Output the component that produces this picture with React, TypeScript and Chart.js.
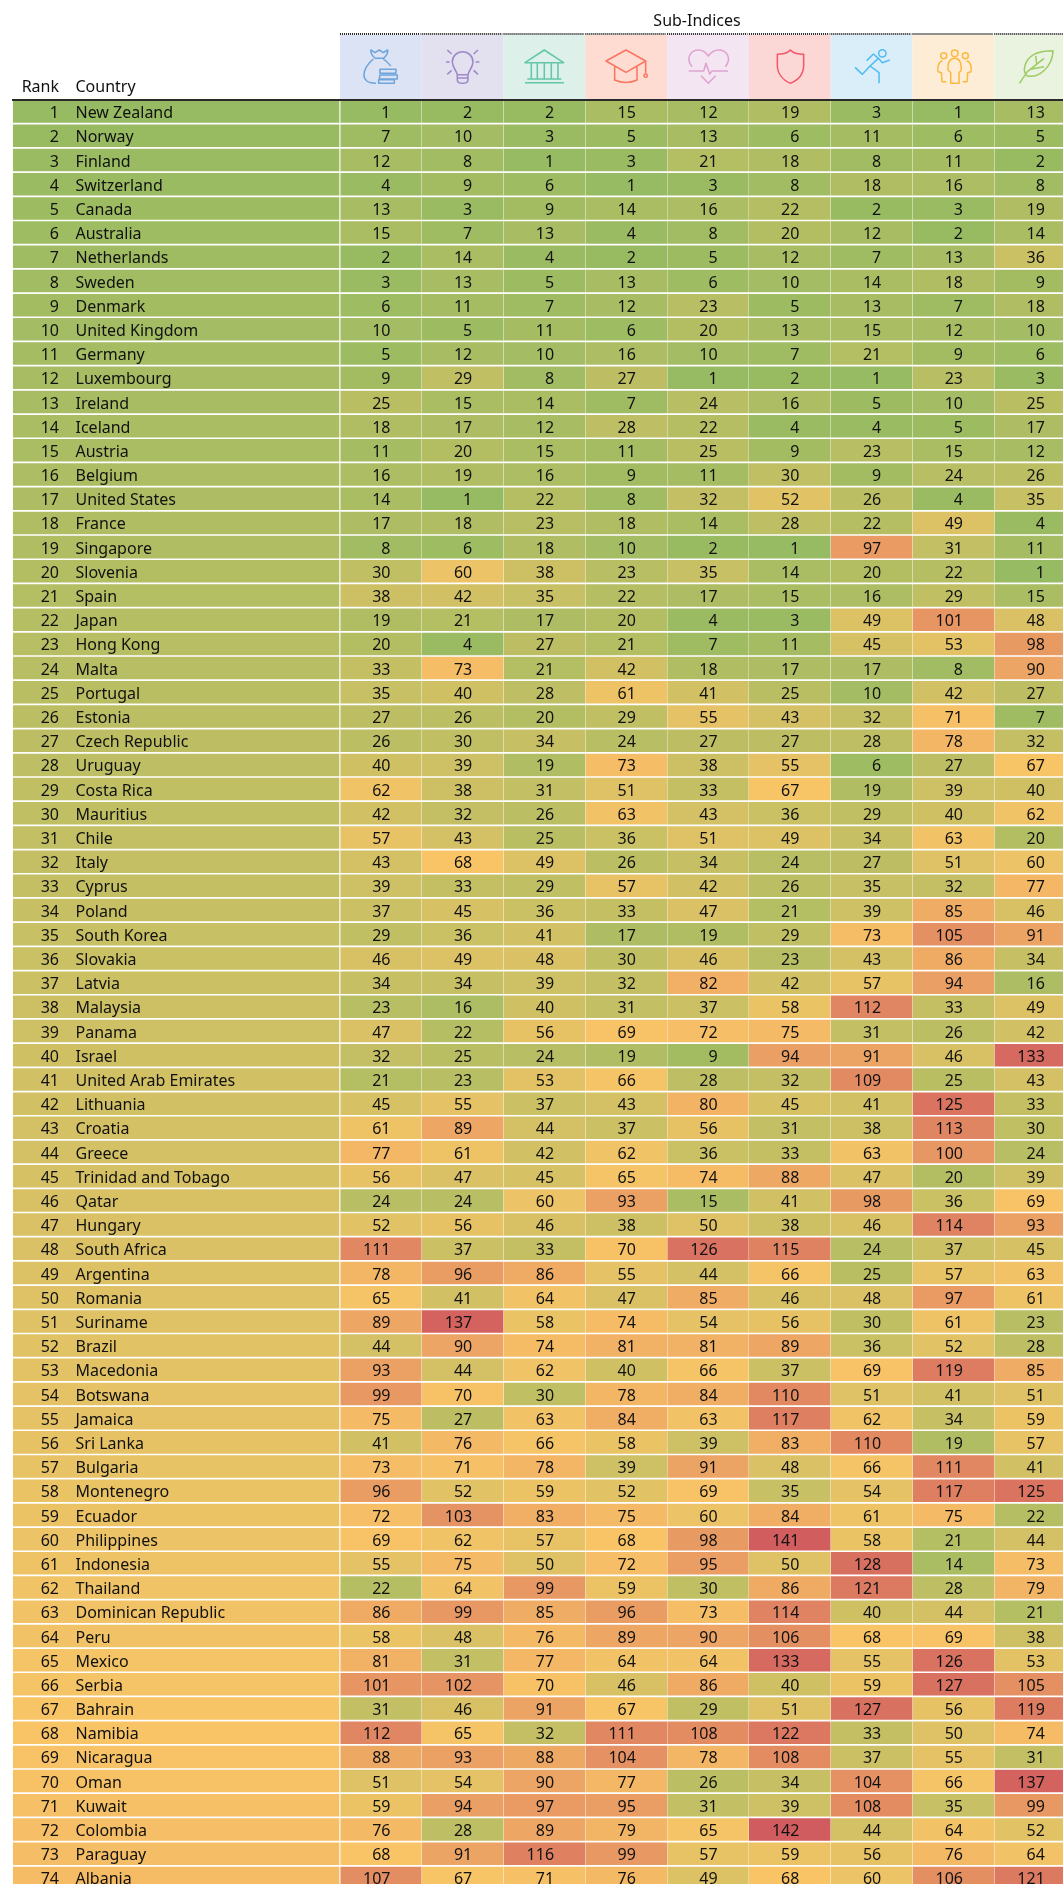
import React, { useEffect, useRef } from "react";
import { Chart, registerables } from "chart.js";

Chart.register(...registerables);

const ranks = Array.from({ length: 74 }, (_, i) => i + 1);
const countries = ["New Zealand","Norway","Finland","Switzerland","Canada","Australia","Netherlands","Sweden","Denmark","United Kingdom","Germany","Luxembourg","Ireland","Iceland","Austria","Belgium","United States","France","Singapore","Slovenia","Spain","Japan","Hong Kong","Malta","Portugal","Estonia","Czech Republic","Uruguay","Costa Rica","Mauritius","Chile","Italy","Cyprus","Poland","South Korea","Slovakia","Latvia","Malaysia","Panama","Israel","United Arab Emirates","Lithuania","Croatia","Greece","Trinidad and Tobago","Qatar","Hungary","South Africa","Argentina","Romania","Suriname","Brazil","Macedonia","Botswana","Jamaica","Sri Lanka","Bulgaria","Montenegro","Ecuador","Philippines","Indonesia","Thailand","Dominican Republic","Peru","Mexico","Serbia","Bahrain","Namibia","Nicaragua","Oman","Kuwait","Colombia","Paraguay","Albania"];

const economicQuality = [1,7,12,4,13,15,2,3,6,10,5,9,25,18,11,16,14,17,8,30,38,19,20,33,35,27,26,40,62,42,57,43,39,37,29,46,34,23,47,32,21,45,61,77,56,24,52,111,78,65,89,44,93,99,75,41,73,96,72,69,55,22,86,58,81,101,31,112,88,51,59,76,68,107];
const businessEnvironment = [2,10,8,9,3,7,14,13,11,5,12,29,15,17,20,19,1,18,6,60,42,21,4,73,40,26,30,39,38,32,43,68,33,45,36,49,34,16,22,25,23,55,89,61,47,24,56,37,96,41,137,90,44,70,27,76,71,52,103,62,75,64,99,48,31,102,46,65,93,54,94,28,91,67];
const governance = [2,3,1,6,9,13,4,5,7,11,10,8,14,12,15,16,22,23,18,38,35,17,27,21,28,20,34,19,31,26,25,49,29,36,41,48,39,40,56,24,53,37,44,42,45,60,46,33,86,64,58,74,62,30,63,66,78,59,83,57,50,99,85,76,77,70,91,32,88,90,97,89,116,71];
const education = [15,5,3,1,14,4,2,13,12,6,16,27,7,28,11,9,8,18,10,23,22,20,21,42,61,29,24,73,51,63,36,26,57,33,17,30,32,31,69,19,66,43,37,62,65,93,38,70,55,47,74,81,40,78,84,58,39,52,75,68,72,59,96,89,64,46,67,111,104,77,95,79,99,76];
const health = [12,13,21,3,16,8,5,6,23,20,10,1,24,22,25,11,32,14,2,35,17,4,7,18,41,55,27,38,33,43,51,34,42,47,19,46,82,37,72,9,28,80,56,36,74,15,50,126,44,85,54,81,66,84,63,39,91,69,60,98,95,30,73,90,64,86,29,108,78,26,31,65,57,49];
const safety = [19,6,18,8,22,20,12,10,5,13,7,2,16,4,9,30,52,28,1,14,15,3,11,17,25,43,27,55,67,36,49,24,26,21,29,23,42,58,75,94,32,45,31,33,88,41,38,115,66,46,56,89,37,110,117,83,48,35,84,141,50,86,114,106,133,40,51,122,108,34,39,142,59,68];
const personalFreedom = [3,11,8,18,2,12,7,14,13,15,21,1,5,4,23,9,26,22,97,20,16,49,45,17,10,32,28,6,19,29,34,27,35,39,73,43,57,112,31,91,109,41,38,63,47,98,46,24,25,48,30,36,69,51,62,110,66,54,61,58,128,121,40,68,55,59,127,33,37,104,108,44,56,60];
const socialCapital = [1,6,11,16,3,2,13,18,7,12,9,23,10,5,15,24,4,49,31,22,29,101,53,8,42,71,78,27,39,40,63,51,32,85,105,86,94,33,26,46,25,125,113,100,20,36,114,37,57,97,61,52,119,41,34,19,111,117,75,21,14,28,44,69,126,127,56,50,55,66,35,64,76,106];
const naturalEnvironment = [13,5,2,8,19,14,36,9,18,10,6,3,25,17,12,26,35,4,11,1,15,48,98,90,27,7,32,67,40,62,20,60,77,46,91,34,16,49,42,133,43,33,30,24,39,69,93,45,63,61,23,28,85,51,59,57,41,125,22,44,73,79,21,38,53,105,119,74,31,137,99,52,64,121];

const subIndices = [economicQuality, businessEnvironment, governance, education, health, safety, personalFreedom, socialCapital, naturalEnvironment];
const bandColors = ["#dce3f4","#e3e0f0","#ddf0e9","#ffdcd1","#f3e6f2","#fbd8d5","#daeefa","#feedd6","#eaf3e0"];
const iconColors = ["#6ea5dc","#9e88ca","#63c6a8","#fa7560","#e0a3cf","#f3586b","#50bdee","#fbb941","#9dcc66"];

const FONT = '"Noto Sans"';
const GREEN = [151, 187, 98];
const MID = [248, 196, 102];
const RED = [209, 92, 95];

function mix(a: number[], b: number[], t: number) {
  return `rgb(${a.map((v, i) => Math.round(v + (b[i] - v) * t)).join(",")})`;
}
function valueColor(v: number) {
  const midpoint = 68;
  return v <= midpoint ? mix(GREEN, MID, (v - 1) / (midpoint - 1)) : mix(MID, RED, (v - midpoint) / (142 - midpoint));
}

// Icon outlines, in 3x local units, one group per three sub-indices.
const iconPaths: { group: number; color: number; d: string; dots?: number[][] }[] = [
  { group: 0, color: 0, d: "M93 60 L105 68 L118 60 L130 68 L143 60 C146 70 136 80 131 85 L106 85 C100 80 90 72 93 60 Z M100 87 C85 100 72 115 72 135 C72 150 85 160 108 160 M130 87 C138 93 147 100 152 108 M120 118 H168 V130 H120 Z M120 135 H172 V147 H118 Z M116 149 H163 V160 H116 Z" },
  { group: 0, color: 1, d: "M352 134 C350 122 337 112 337 96 C337 78 351 65 368 65 C385 65 399 78 399 96 C399 112 386 122 384 134 Z M352 134 L352 150 Q352 160 368 160 Q384 160 384 150 L384 134 M352 144 L384 144 M322 60 L335 72 M414 60 L401 72 M318 96 L329 96 M407 96 L418 96 M322 133 L335 121 M414 133 L401 121" },
  { group: 0, color: 2, d: "M555 98 L613 60 L671 98 Z M574 100 V147 M592 100 V147 M613 100 V147 M634 100 V147 M654 100 V147 M562 147 H664 M555 158 H672" },
  { group: 1, color: 3, d: "M62 93 L122 60 L181 93 L122 127 Z M88 110 L88 150 Q122 165 155 150 L155 110 M181 93 L181 130", dots: [[181, 137, 5]] },
  { group: 1, color: 4, d: "M320 110 C300 85 315 60 340 60 C352 60 362 68 369 78 C376 68 386 60 400 60 C425 60 440 85 420 110 M310 123 L355 123 L362 100 L373 132 L380 123 L428 123 M347 137 L369 160 L391 137" },
  { group: 1, color: 5, d: "M576 73 C592 73 606 70 615 60 C624 70 640 73 655 73 L655 105 C655 130 640 150 615 160 C592 150 576 130 576 105 Z" },
  { group: 2, color: 6, d: "M73 112 L95 133 L118 108 M108 92 L128 72 L143 85 L118 108 L145 128 L145 160 M143 85 L155 98 L177 90", dots: [[155, 70, 11]] },
  { group: 2, color: 7, d: "M352 120 C350 95 360 85 372 85 C384 85 392 95 392 120 L385 128 L385 160 L360 160 L360 128 Z M335 92 C322 95 320 115 322 125 L332 128 L334 155 L347 155 M408 92 C421 95 423 115 421 125 L411 128 L409 155 L396 155", dots: [[372, 70, 10], [339, 77, 9], [404, 77, 9]] },
  { group: 2, color: 8, d: "M667 62 C630 62 590 70 582 110 C578 125 585 135 590 138 C625 145 665 110 667 62 Z M566 160 L590 125 L640 85 M618 102 L615 78 M600 118 L640 110" },
];

const tablePlugin = {
  id: "tableText",
  beforeDraw(chart: any) {
    const { ctx, scales } = chart;
    const x = scales.x;
    ctx.save();
    ctx.fillStyle = "#ffffff";
    ctx.fillRect(0, 0, chart.width, chart.height);
    subIndices.forEach((_, c) => {
      const l = x.getPixelForValue(c);
      ctx.fillStyle = bandColors[c];
      ctx.fillRect(l, 35, x.getPixelForValue(c + 1) - l, 64.5);
      ctx.beginPath();
      ctx.setLineDash([1, 1]);
      ctx.lineWidth = 2;
      ctx.strokeStyle = "#222";
      ctx.moveTo(l, 34);
      ctx.lineTo(l + 80.5, 34);
      ctx.stroke();
      ctx.setLineDash([]);
    });
    iconPaths.forEach((ic) => {
      ctx.save();
      ctx.translate(x.getPixelForValue(ic.group * 3), 30);
      ctx.scale(1 / 3, 1 / 3);
      ctx.lineWidth = 4.6;
      ctx.lineJoin = "round";
      ctx.strokeStyle = iconColors[ic.color];
      ctx.stroke(new Path2D(ic.d));
      (ic.dots || []).forEach(([a, b, r]) => {
        ctx.beginPath();
        ctx.arc(a, b, r, 0, Math.PI * 2);
        ctx.stroke();
      });
      ctx.restore();
    });
    ctx.fillStyle = "#111";
    ctx.font = `16px ${FONT}`;
    ctx.textBaseline = "middle";
    ctx.textAlign = "right";
    ctx.fillText("Rank", 59, 87.5);
    ctx.textAlign = "left";
    ctx.fillText("Country", 75.5, 87.5);
    ctx.textAlign = "center";
    ctx.fillText("Sub-Indices", 697, 21.5);
    ctx.restore();
  },
  afterDatasetsDraw(chart: any) {
    const { ctx, scales } = chart;
    const { x, y } = scales;
    ctx.save();
    ctx.fillStyle = "#111";
    ctx.font = `16px ${FONT}`;
    ctx.textBaseline = "middle";
    ctx.textAlign = "right";
    ranks.forEach((r, i) => {
      const py = y.getPixelForValue(i) + 2;
      ctx.fillText(String(r), 59, py);
      subIndices.forEach((col, c) => {
        ctx.fillText(String(col[i]), x.getPixelForValue(c) + 50.5, py);
      });
    });
    ctx.restore();
  },
};

export default function App() {
  const ref = useRef<HTMLCanvasElement>(null);
  useEffect(() => {
    const chart = new Chart(ref.current as HTMLCanvasElement, {
      type: "bar",
      data: {
        labels: countries,
        datasets: [
          {
            label: "Rank",
            data: ranks.map(() => [-4, 0]),
            backgroundColor: ranks.map(valueColor),
            borderWidth: 0,
          } as any,
          ...subIndices.map((col, c) => ({
            label: `Sub-index ${c + 1}`,
            data: col.map(() => [c, c + 1]),
            backgroundColor: col.map(valueColor),
            borderWidth: 0,
          })),
        ],
      },
      options: {
        indexAxis: "y",
        responsive: false,
        animation: false,
        maintainAspectRatio: false,
        layout: { padding: { left: 12.8, right: 0, top: 99.5, bottom: 0 } },
        datasets: { bar: { categoryPercentage: 1, barPercentage: 0.93, grouped: false } },
        plugins: { legend: { display: false }, title: { display: false }, tooltip: { enabled: false } },
        scales: {
          x: {
            position: "top",
            min: -4,
            max: 8.84,
            afterFit: (s: any) => { s.height = 0; s.paddingLeft = 0; s.paddingRight = 0; },
            ticks: { display: false, stepSize: 1, autoSkip: false },
            border: { display: true, color: "#2a2a2a", width: 2, z: 2 },
            grid: {
              drawTicks: false,
              z: 1,
              lineWidth: 1,
              color: (c: any) => {
                const v = c.tick ? c.tick.value : -1;
                return v >= 0 && Number.isInteger(v) ? "rgba(255,255,255,0.3)" : "rgba(0,0,0,0)";
              },
            },
          },
          y: {
            type: "category",
            offset: true,
            afterFit: (s: any) => { s.width = 0; s.paddingTop = 0; s.paddingBottom = 0; },
            border: { display: false },
            grid: { display: false },
            ticks: {
              autoSkip: false,
              mirror: true,
              padding: 62.7,
              labelOffset: 2,
              z: 1,
              color: "#111",
              font: { family: FONT, size: 16 },
            },
          },
        },
      } as any,
      plugins: [tablePlugin],
    });
    return () => chart.destroy();
  }, []);
  return (
    <div style={{ position: "absolute", left: 0, top: 0, width: 1063, height: 1884, overflow: "hidden", background: "#fff" }}>
      <canvas ref={ref} width={1063} height={1890} style={{ display: "block", width: 1063, height: 1890 }} />
    </div>
  );
}
